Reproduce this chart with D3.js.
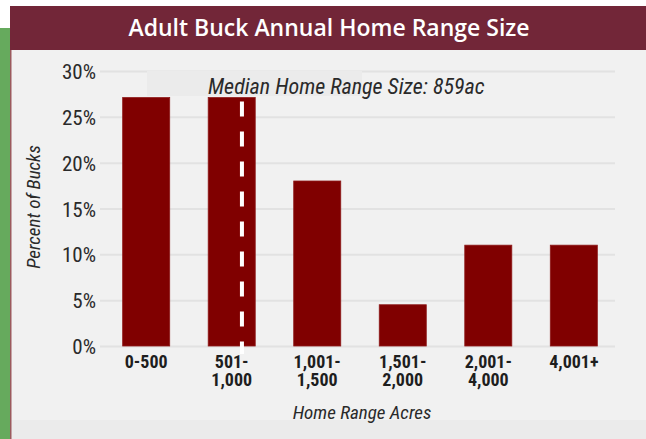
<!DOCTYPE html>
<html>
<head>
<meta charset="utf-8">
<script src="https://cdnjs.cloudflare.com/ajax/libs/d3/7.8.5/d3.min.js"></script>
<style>
  html, body { margin: 0; padding: 0; background: #ffffff; }
  #chart { width: 646px; height: 439px; }
  .narrow { font-family: "Liberation Sans Narrow", "Arial Narrow", "Roboto Condensed", sans-serif; }
</style>
</head>
<body>
<div id="chart"></div>
<script>
// data
var categories = ["0-500", "501-\n1,000", "1,001-\n1,500", "1,501-\n2,000", "2,001-\n4,000", "4,001+"];
var percents = [27.1, 27.1, 18.0, 4.5, 11.0, 11.0];
var yTicks = [0, 5, 10, 15, 20, 25, 30];
var medianAcres = 859;
var medianBin = [501, 1000]; // range of the 2nd bin

var W = 646, H = 439;

var svg = d3.select('#chart').append('svg')
    .attr('width', W)
    .attr('height', H);

// panel & frame
svg.append('rect').attr('x', 0).attr('y', 28).attr('width', 11).attr('height', H - 28).attr('fill', '#66aa5d');
svg.append('rect').attr('x', 10).attr('y', 6).attr('width', W - 10).attr('height', H - 6).attr('fill', '#f1f1f1');
svg.append('rect').attr('x', 10).attr('y', 420).attr('width', W - 10).attr('height', H - 420).attr('fill', '#ebebeb');
svg.append('rect').attr('x', 10).attr('y', 6).attr('width', 1.5).attr('height', H - 6).attr('fill', '#9c5a5e');
svg.append('rect').attr('x', 10).attr('y', 6).attr('width', W - 10).attr('height', 44).attr('fill', '#722638');

svg.append('text')
    .attr('x', 329)
    .attr('y', 36)
    .attr('text-anchor', 'middle')
    .style('font-family', '"Open Sans", sans-serif')
    .style('font-weight', 600)
    .style('font-size', '23px')
    .attr('fill', '#ffffff')
    .text('Adult Buck Annual Home Range Size');

// scales
var x = d3.scaleBand()
    .domain(categories)
    .range([100, 620])
    .paddingInner(0.45)
    .paddingOuter(0.265);

var y = d3.scaleLinear()
    .domain([0, 30])
    .range([346, 71]);

// gridlines
svg.append('g')
    .selectAll('line')
    .data(yTicks)
    .join('line')
    .attr('x1', 100)
    .attr('x2', 615)
    .attr('y1', function (d) { return y(d) + 0.5; })
    .attr('y2', function (d) { return y(d) + 0.5; })
    .attr('stroke', '#e2e2e2')
    .attr('stroke-width', 2);

// y axis labels
var yAxis = d3.axisLeft(y)
    .tickValues(yTicks)
    .tickSize(0)
    .tickPadding(0)
    .tickFormat(function (d) { return d + '%'; });

var gy = svg.append('g')
    .attr('transform', 'translate(96,0)')
    .call(yAxis);
gy.select('.domain').remove();
gy.selectAll('text')
    .attr('class', 'narrow')
    .attr('dy', '0.36em')
    .style('font-size', '21px')
    .attr('fill', '#2a2a2a');

// annotation box behind median text
svg.append('rect')
    .attr('x', 147).attr('y', 71)
    .attr('width', 215).attr('height', 25)
    .attr('fill', '#ebebeb');

// bars
svg.append('g')
    .selectAll('rect')
    .data(percents)
    .join('rect')
    .attr('x', function (d, i) { return x(categories[i]); })
    .attr('y', function (d) { return y(d); })
    .attr('width', x.bandwidth())
    .attr('height', function (d) { return y(0) - y(d); })
    .attr('fill', '#800000')
    .attr('stroke', '#8e1a1a')
    .attr('stroke-width', 0.8);

// median line inside the 501-1,000 bar
var medianX = x(categories[1]) + x.bandwidth() * (medianAcres - medianBin[0]) / (medianBin[1] - medianBin[0]);
svg.append('line')
    .attr('x1', medianX).attr('x2', medianX)
    .attr('y1', y(percents[1]) + 4)
    .attr('y2', y(0) + 8)
    .attr('stroke', '#ffffff')
    .attr('stroke-width', 4)
    .attr('stroke-dasharray', '15,15');

svg.append('text')
    .attr('class', 'narrow')
    .attr('x', 208)
    .attr('y', 94)
    .style('font-size', '22px')
    .style('font-style', 'italic')
    .attr('fill', '#2a2a2a')
    .text('Median Home Range Size: ' + medianAcres + 'ac');

// x labels (two lines)
var xl = svg.append('g')
    .selectAll('text')
    .data(categories)
    .join('text')
    .attr('class', 'narrow')
    .attr('text-anchor', 'middle')
    .style('font-size', '18px')
    .style('font-weight', 'bold')
    .attr('fill', '#1e1e1e');

xl.each(function (d) {
    var lines = d.split('\n');
    var t = d3.select(this);
    lines.forEach(function (s, j) {
        t.append('tspan')
            .attr('x', x(d) + x.bandwidth() / 2)
            .attr('y', 368 + j * 17.5)
            .text(s);
    });
});

// axis titles
svg.append('text')
    .attr('class', 'narrow')
    .attr('text-anchor', 'middle')
    .attr('transform', 'translate(40,207) rotate(-90)')
    .style('font-size', '19px')
    .style('font-style', 'italic')
    .attr('fill', '#2a2a2a')
    .text('Percent of Bucks');

svg.append('text')
    .attr('class', 'narrow')
    .attr('text-anchor', 'middle')
    .attr('x', 362)
    .attr('y', 419)
    .style('font-size', '19px')
    .style('font-style', 'italic')
    .attr('fill', '#2a2a2a')
    .text('Home Range Acres');
</script>
</body>
</html>
